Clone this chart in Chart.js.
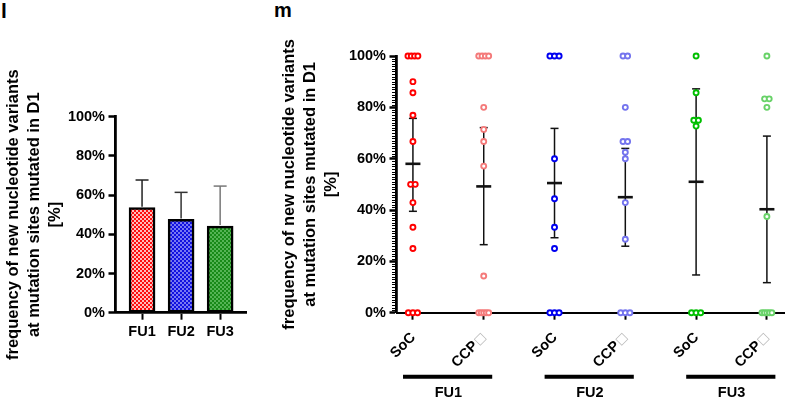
<!DOCTYPE html>
<html>
<head>
<meta charset="utf-8">
<script src="https://cdn.jsdelivr.net/npm/chart.js@4.4.1/dist/chart.umd.min.js"></script>
<style>
body{margin:0;background:#fff;width:789px;height:399px;position:relative;overflow:hidden;font-family:'Liberation Sans',Arial,sans-serif}
.tag{position:absolute;top:0;font-weight:bold}
canvas{position:absolute;top:0}
</style>
</head>
<body>
<div class="tag" style="left:1px;font-size:21px;line-height:21px">l</div>
<div class="tag" style="left:274px;font-size:20px;line-height:20px">m</div>
<canvas id="bars" width="260" height="399" style="left:0"></canvas>
<canvas id="dots" width="513" height="399" style="left:276px"></canvas>
<script>
var groups = ['FU1', 'FU2', 'FU3'];
var conditions = ['SoC', 'CCP'];
var ccpMark = '\u25A1';
var yTicks = [0, 20, 40, 60, 80, 100];
var yTitle = ['frequency of new nucleotide variants', 'at mutation sites mutated in D1', '[%]'];

// panel l : mean and upper error per follow-up
var barMeans = [53.6, 47.6, 44.2];
var barUpper = [67.7, 61.4, 64.6];

// panel m : single values, SoC / CCP for FU1..FU3
var socFU1 = [100, 100, 100, 100, 90, 85.7, 76.9, 66.7, 50, 50, 42.9, 33.3, 25, 0, 0, 0];
var ccpFU1 = [100, 100, 100, 100, 80, 71.4, 66.7, 57.1, 14.3, 0, 0, 0, 0, 0];
var socFU2 = [100, 100, 100, 60, 44.4, 33.3, 25, 0, 0, 0];
var ccpFU2 = [100, 100, 80, 66.7, 66.7, 62.5, 60, 42.9, 28.6, 0, 0, 0];
var socFU3 = [100, 85.7, 75, 75, 72.7, 0, 0, 0];
var ccpFU3 = [100, 83.3, 83.3, 80, 37.5, 0, 0, 0, 0, 0];
var dotMeans = [58.0, 49.2, 50.5, 45.0, 51.0, 40.3];
var dotLow = [39.5, 26.5, 29.2, 25.9, 14.7, 11.7];
var dotHigh = [75.7, 72.1, 71.8, 64.0, 87.2, 68.8];

var dotSeries = [socFU1, ccpFU1, socFU2, ccpFU2, socFU3, ccpFU3];
var dotColors = ['#ff0000', '#f47a7a', '#0000f0', '#7474ee', '#00bf00', '#68d268'];
var barErrColors = ['#222', '#333', '#777'];

var tickFont = {size: 14.5, weight: 'bold'};
var labelFont = "bold 14.5px 'Liberation Sans', Arial, sans-serif";

Chart.defaults.font.family = "'Liberation Sans', Arial, sans-serif";
Chart.defaults.color = '#000';

function checker(c1, c2){
    var p = document.createElement('canvas');
    p.width = 4; p.height = 4;
    var g = p.getContext('2d');
    g.fillStyle = c2; g.fillRect(0, 0, 4, 4);
    g.fillStyle = c1; g.fillRect(0, 0, 2, 2); g.fillRect(2, 2, 2, 2);
    return g.createPattern(p, 'repeat');
}

var barFills = [checker('#ff0d0d', '#ffbdbd'), checker('#1010e0', '#7878f2'), checker('#188a18', '#55b455')];

function line(ctx, x1, y1, x2, y2){
    ctx.beginPath();
    ctx.moveTo(x1, y1);
    ctx.lineTo(x2, y2);
    ctx.stroke();
}

// spread repeated values sideways so they stay visible
function jitter(vals, pos){
    var out = [];
    vals.forEach(function(v, i){
        var same = vals.filter(function(w){ return w === v; }).length;
        var k = vals.slice(0, i).filter(function(w){ return w === v; }).length;
        var step = same > 1 ? Math.min(0.065, 0.14 / (same - 1)) : 0;
        out.push({x: pos + (k - (same - 1) / 2) * step, y: v});
    });
    return out;
}

function yScaleOpts(width){
    return {
        min: 0, max: 100,
        afterBuildTicks: function(s){ s.ticks = yTicks.map(function(v){ return {value: v}; }); },
        afterFit: function(s){ s.width = width; },
        ticks: {callback: function(v){ return v + '%'; }, font: tickFont, padding: 3.5, color: '#000'},
        grid: {drawOnChartArea: false, tickLength: 7, tickWidth: 2.5, tickColor: '#000'},
        border: {color: '#000', width: 2.8},
        title: {display: true, text: yTitle, color: '#000', font: {size: 16.5, weight: 'bold', lineHeight: 1.27}, padding: {top: 3.4, bottom: 0}}
    };
}

var barErrors = {
    id: 'barErrors',
    afterDatasetsDraw: function(chart){
        var ctx = chart.ctx, xs = chart.scales.x, ys = chart.scales.y;
        ctx.save();
        ctx.lineWidth = 1.5;
        barUpper.forEach(function(u, i){
            var x = xs.getPixelForValue(i + 1);
            var top = ys.getPixelForValue(u);
            ctx.strokeStyle = barErrColors[i];
            line(ctx, x, ys.getPixelForValue(barMeans[i]) - 1, x, top);
            line(ctx, x - 6.5, top, x + 6.5, top);
        });
        ctx.restore();
    }
};

new Chart(document.getElementById('bars'), {
    type: 'bar',
    data: {
        datasets: [{
            data: barMeans.map(function(v, i){ return {x: i + 1, y: v}; }),
            backgroundColor: barFills,
            borderColor: '#000',
            borderWidth: 2.5,
            borderSkipped: false,
            barThickness: 26
        }]
    },
    options: {
        animation: false,
        responsive: false,
        layout: {padding: {top: 116.7, right: 13.3, left: 0, bottom: 0}},
        plugins: {legend: {display: false}, tooltip: {enabled: false}},
        scales: {
            x: {
                type: 'linear', min: 0.32, max: 3.68, offset: false,
                afterBuildTicks: function(s){ s.ticks = groups.map(function(g, i){ return {value: i + 1}; }); },
                afterFit: function(s){ s.height = 86.3; },
                ticks: {callback: function(v){ return groups[v - 1]; }, font: tickFont, padding: 3.5, maxRotation: 0, autoSkip: false, color: '#000'},
                grid: {offset: false, drawOnChartArea: false, tickLength: 7, tickWidth: 2, tickColor: '#000'},
                border: {color: '#000', width: 2.8}
            },
            y: yScaleOpts(115.5)
        }
    },
    plugins: [barErrors]
});

var dotExtras = {
    id: 'dotExtras',
    beforeDatasetsDraw: function(chart){
        var ctx = chart.ctx, xs = chart.scales.x, ys = chart.scales.y;
        ctx.save();
        ctx.strokeStyle = '#111';
        dotMeans.forEach(function(m, i){
            var x = xs.getPixelForValue(i + 1);
            var lo = ys.getPixelForValue(dotLow[i]), hi = ys.getPixelForValue(dotHigh[i]);
            ctx.lineWidth = 1.5;
            line(ctx, x, lo, x, hi);
            line(ctx, x - 4, lo, x + 4, lo);
            line(ctx, x - 4, hi, x + 4, hi);
            ctx.lineWidth = 2.6;
            var my = ys.getPixelForValue(m);
            line(ctx, x - 7.5, my, x + 7.5, my);
        });
        ctx.restore();
    },
    afterDraw: function(chart){
        var ctx = chart.ctx, xs = chart.scales.x, ys = chart.scales.y;
        var left = chart.chartArea.left, base = chart.chartArea.bottom;
        ctx.save();
        // minor ticks every 1%
        ctx.strokeStyle = '#000';
        ctx.fillStyle = '#000';
        ctx.lineWidth = 1;
        for (var v = 1; v < 100; v++) {
            if (v % 20 === 0) continue;
            var y = Math.round(ys.getPixelForValue(v)) + 0.5;
            line(ctx, left - 4.5, y, left, y);
        }
        // rotated category labels
        ctx.textAlign = 'right';
        ctx.textBaseline = 'middle';
        dotMeans.forEach(function(m, i){
            var x = xs.getPixelForValue(i + 1);
            ctx.save();
            ctx.translate(x + 0.5, base + 22.5);
            ctx.rotate(-Math.PI / 4);
            var shift = 0;
            if (i % 2 === 1) {
                ctx.font = "12px 'DejaVu Sans'";
                ctx.fillStyle = '#b8b8b8';
                ctx.fillText(ccpMark, 0, 0);
                shift = ctx.measureText(ccpMark).width + 0.5;
            }
            ctx.font = labelFont;
            ctx.fillStyle = '#000';
            ctx.fillText(conditions[i % 2], -shift, 0);
            ctx.restore();
        });
        // group bars and names
        ctx.lineWidth = 4;
        ctx.textAlign = 'center';
        ctx.font = labelFont;
        ctx.fillStyle = '#000';
        groups.forEach(function(g, j){
            var a = xs.getPixelForValue(2 * j + 1 - 0.14), b = xs.getPixelForValue(2 * j + 2 + 0.12);
            line(ctx, a, base + 64, b, base + 64);
            ctx.fillText(g, (xs.getPixelForValue(2 * j + 1) + xs.getPixelForValue(2 * j + 2)) / 2, base + 80);
        });
        ctx.restore();
    }
};

new Chart(document.getElementById('dots'), {
    type: 'scatter',
    data: {
        datasets: dotSeries.map(function(vals, i){
            return {
                data: jitter(vals, i + 1),
                pointBorderColor: dotColors[i],
                pointBackgroundColor: '#fff',
                pointRadius: 2.5,
                pointHoverRadius: 2.5,
                pointBorderWidth: 1.9,
                clip: false
            };
        })
    },
    options: {
        animation: false,
        responsive: false,
        layout: {padding: {top: 56, right: 3, left: 0, bottom: 0}},
        plugins: {legend: {display: false}, tooltip: {enabled: false}},
        scales: {
            x: {
                type: 'linear', min: 0.768, max: 6.25,
                afterBuildTicks: function(s){ s.ticks = dotMeans.map(function(m, i){ return {value: i + 1}; }); },
                afterFit: function(s){ s.height = 86.3; },
                ticks: {display: false},
                grid: {drawOnChartArea: false, tickLength: 7, tickWidth: 2, tickColor: '#000'},
                border: {color: '#000', width: 2}
            },
            y: yScaleOpts(120.5)
        }
    },
    plugins: [dotExtras]
});
</script>
</body>
</html>
